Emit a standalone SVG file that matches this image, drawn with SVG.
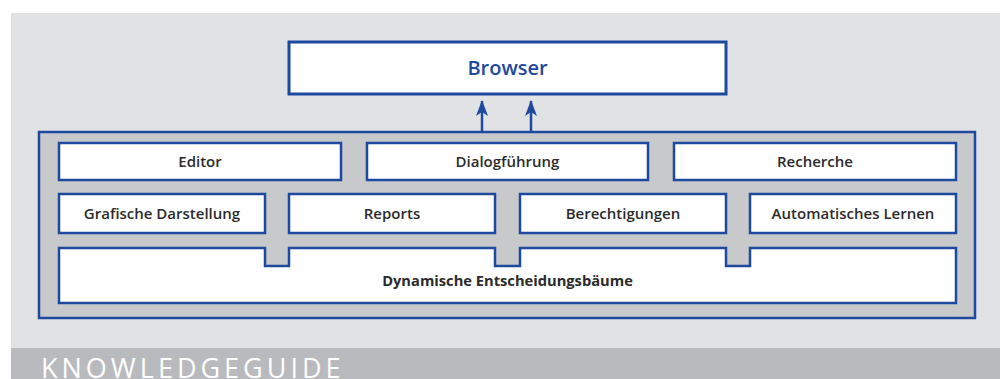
<svg xmlns="http://www.w3.org/2000/svg" width="1000" height="379" viewBox="0 0 1000 379">
  <defs>
    <style>
      .box { fill: #ffffff; stroke: #1d4a9e; stroke-width: 2.5; }
      .lbl { font-family: "Open Sans", "Noto Sans", "DejaVu Sans", sans-serif; font-size: 15px; font-weight: 600; fill: #2b2b2b; text-anchor: middle; }
      .conn { stroke: #1d4a9e; stroke-width: 2.5; fill: none; }
    </style>
    <marker id="ah" viewBox="0 0 16 12" refX="15" refY="6" markerWidth="16" markerHeight="12" markerUnits="userSpaceOnUse" orient="auto">
      <path d="M16,6 L0,0 L4,6 L0,12 Z" fill="#1d4a9e"/>
    </marker>
  </defs>

  <rect x="0" y="0" width="1000" height="379" fill="#ffffff"/>
  <rect x="11" y="13" width="989" height="335" fill="#e1e2e4"/>
  <rect x="11" y="348" width="989" height="31" fill="#b9babd"/>
  <text x="41" y="378" font-family="Open Sans, Noto Sans, sans-serif" font-size="27" font-weight="400" letter-spacing="4" fill="#ffffff">KNOWLEDGEGUIDE</text>

  <g id="browser">
    <rect x="289" y="42" width="437" height="52" fill="#ffffff" stroke="#1d4a9e" stroke-width="3"/>
    <text x="507.5" y="75" font-family="Open Sans, Noto Sans, sans-serif" font-size="20" font-weight="600" fill="#1d4a9e" text-anchor="middle">Browser</text>
  </g>

  <g id="container">
    <rect x="39" y="132" width="936" height="186" fill="#c8c9cb" stroke="#1d4a9e" stroke-width="2.5"/>
  </g>

  <g id="editor">
    <rect class="box" x="59" y="143" width="282" height="37"/>
    <text class="lbl" x="200" y="167">Editor</text>
  </g>
  <g id="dialogfuehrung">
    <rect class="box" x="367" y="143" width="281" height="37"/>
    <text class="lbl" x="507.5" y="167">Dialogführung</text>
  </g>
  <g id="recherche">
    <rect class="box" x="674" y="143" width="282" height="37"/>
    <text class="lbl" x="815" y="167">Recherche</text>
  </g>

  <g id="grafische-darstellung">
    <rect class="box" x="59" y="194" width="206" height="39"/>
    <text class="lbl" x="162" y="219">Grafische Darstellung</text>
  </g>
  <g id="reports">
    <rect class="box" x="289" y="194" width="206" height="39"/>
    <text class="lbl" x="392" y="219">Reports</text>
  </g>
  <g id="berechtigungen">
    <rect class="box" x="520" y="194" width="206" height="39"/>
    <text class="lbl" x="623" y="219">Berechtigungen</text>
  </g>
  <g id="automatisches-lernen">
    <rect class="box" x="750" y="194" width="206" height="39"/>
    <text class="lbl" x="853" y="219">Automatisches Lernen</text>
  </g>

  <g id="dynamische-entscheidungsbaeume">
    <path class="box" d="M59,248 H265 V266 H289 V248 H495 V266 H520 V248 H726 V266 H750 V248 H956 V303 H59 Z"/>
    <text class="lbl" x="507.5" y="286" style="font-weight:700;font-size:14.7px">Dynamische Entscheidungsbäume</text>
  </g>

  <g id="connectors">
    <line class="conn" x1="482" y1="131" x2="482" y2="101" marker-end="url(#ah)"/>
    <line class="conn" x1="531" y1="131" x2="531" y2="101" marker-end="url(#ah)"/>
  </g>
</svg>
